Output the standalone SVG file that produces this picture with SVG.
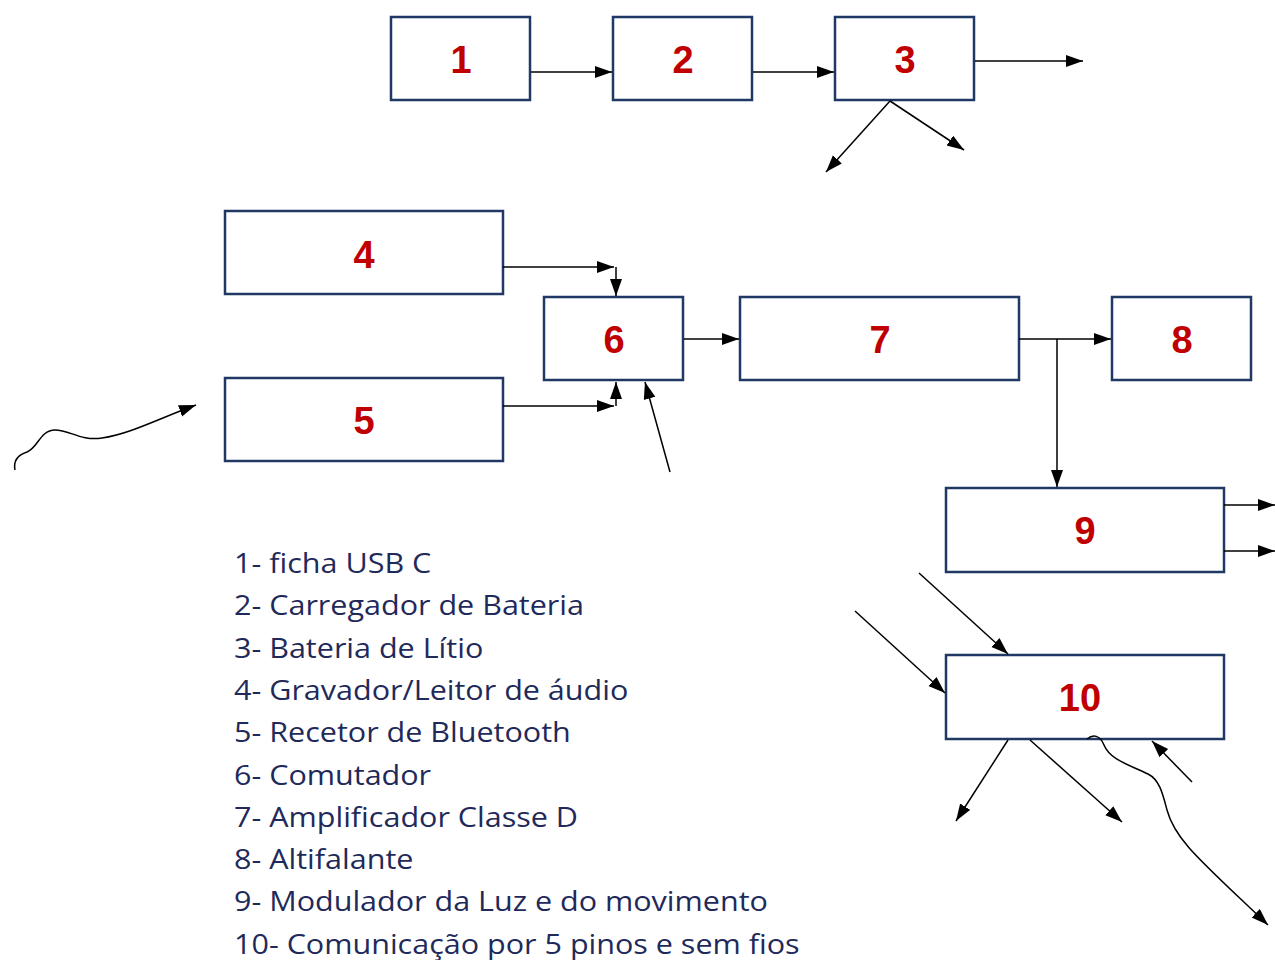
<svg xmlns="http://www.w3.org/2000/svg" width="1275" height="960" viewBox="0 0 1275 960">
<defs>
<marker id="ah" markerWidth="18" markerHeight="13" refX="17" refY="6" orient="auto" markerUnits="userSpaceOnUse">
<path d="M0,0 L17,6 L0,12 z" fill="#000"/>
</marker>
<style>
.box{fill:#fff;stroke:#1f3864;stroke-width:2.5}
.num{font-family:"Liberation Sans",Arial,sans-serif;font-weight:bold;font-size:38px;fill:#c00000;text-anchor:middle}
.c{fill:none;stroke:#000;stroke-width:1.5;marker-end:url(#ah)}
.leg{font-family:"Open Sans","Liberation Sans",sans-serif;font-size:27.5px;fill:#1f2a5a}
</style>
</defs>
<rect width="1275" height="960" fill="#fff"/>
<g id="node1"><rect class="box" x="391" y="17" width="139" height="83"/><text class="num" x="461" y="73">1</text></g>
<g id="node2"><rect class="box" x="613" y="17" width="139" height="83"/><text class="num" x="683" y="73">2</text></g>
<g id="node3"><rect class="box" x="835" y="17" width="139" height="83"/><text class="num" x="905" y="73">3</text></g>
<g id="node4"><rect class="box" x="225" y="211" width="278" height="83"/><text class="num" x="364" y="268">4</text></g>
<g id="node5"><rect class="box" x="225" y="378" width="278" height="83"/><text class="num" x="364" y="434">5</text></g>
<g id="node6"><rect class="box" x="544" y="297" width="139" height="83"/><text class="num" x="614" y="353">6</text></g>
<g id="node7"><rect class="box" x="740" y="297" width="279" height="83"/><text class="num" x="880" y="353">7</text></g>
<g id="node8"><rect class="box" x="1112" y="297" width="139" height="83"/><text class="num" x="1182" y="353">8</text></g>
<g id="node9"><rect class="box" x="946" y="488" width="278" height="84"/><text class="num" x="1085" y="544">9</text></g>
<g id="node10"><rect class="box" x="946" y="655" width="278" height="84"/><text class="num" x="1080" y="711">10</text></g>
<g id="connectors">
<line class="c" x1="531" y1="72" x2="612" y2="72"/>
<line class="c" x1="753" y1="72" x2="834" y2="72"/>
<line class="c" x1="975" y1="61" x2="1083" y2="61"/>
<line class="c" x1="890" y1="101" x2="826" y2="172"/>
<line class="c" x1="890" y1="101" x2="964" y2="150"/>
<line class="c" x1="503" y1="267" x2="614" y2="267"/>
<line class="c" x1="616" y1="267" x2="616" y2="296"/>
<line class="c" x1="503" y1="406" x2="614" y2="406"/>
<line class="c" x1="616" y1="406" x2="616" y2="382"/>
<line class="c" x1="670" y1="472" x2="645" y2="382"/>
<path class="c" d="M15,470 C13,460 18,455 27,452 C38,448 40,430 55,430 C70,430 80,441 102,438 C130,434 160,418 196,405"/>
<line class="c" x1="684" y1="339" x2="739" y2="339"/>
<line class="c" x1="1019" y1="339" x2="1111" y2="339"/>
<line class="c" x1="1057" y1="339" x2="1057" y2="487"/>
<line class="c" x1="1224" y1="505" x2="1275" y2="505"/>
<line class="c" x1="1224" y1="551" x2="1275" y2="551"/>
<line class="c" x1="919" y1="573" x2="1008" y2="654"/>
<line class="c" x1="855" y1="611" x2="945" y2="693"/>
<line class="c" x1="1008" y1="740" x2="956" y2="821"/>
<line class="c" x1="1030" y1="740" x2="1122" y2="822"/>
<line class="c" x1="1192" y1="782" x2="1152" y2="741"/>
<path class="c" d="M1087,739 C1093,734 1100,735 1104,745 C1110,760 1130,765 1148,774 C1160,780 1163,795 1167,810 C1175,840 1200,860 1268,925"/>
</g>
<g id="legend" transform="translate(234,0) scale(1.11,1) translate(-234,0)">
<text class="leg" x="234" y="573">1- ficha USB C</text>
<text class="leg" x="234" y="615">2- Carregador de Bateria</text>
<text class="leg" x="234" y="658">3- Bateria de Lítio</text>
<text class="leg" x="234" y="700">4- Gravador/Leitor de áudio</text>
<text class="leg" x="234" y="742">5- Recetor de Bluetooth</text>
<text class="leg" x="234" y="785">6- Comutador</text>
<text class="leg" x="234" y="827">7- Amplificador Classe D</text>
<text class="leg" x="234" y="869">8- Altifalante</text>
<text class="leg" x="234" y="911">9- Modulador da Luz e do movimento</text>
<text class="leg" x="234" y="954">10- Comunicação por 5 pinos e sem fios</text>
</g>
</svg>
